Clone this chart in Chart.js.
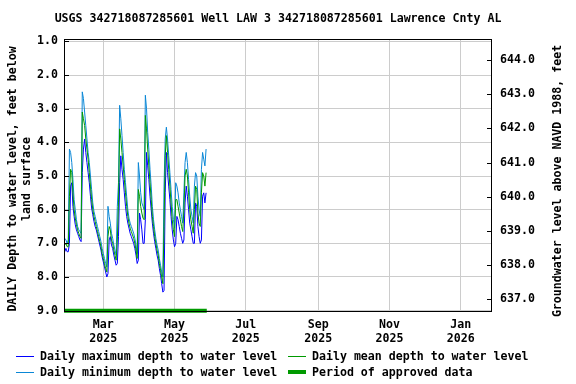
<!DOCTYPE html>
<html><head><meta charset="utf-8">
<script src="https://cdn.jsdelivr.net/npm/chart.js@4.4.1/dist/chart.umd.min.js"></script>
<style>html,body{margin:0;padding:0;background:#fff}#wrap{width:576px;height:384px}</style>
</head><body><div id="wrap"><canvas id="c" width="576" height="384"></canvas></div>
<script>
const titleText = "USGS 342718087285601 Well LAW 3 342718087285601 Lawrence Cnty AL";
const leftTitle = ["DAILY Depth to water level, feet below", "land surface"];
const rightTitle = "Groundwater level above NAVD 1988, feet";
// day-of-year 2025 (Jan 1 = 0) of the first value: Jan 27 2025
const firstDay = 26;
const dailyMin = [
6.85,6.9,7.0,6.9,4.2,4.3,4.6,5.1,5.7,6.0,6.3,6.5,6.6,6.65,6.7,
2.5,2.7,3.1,3.5,3.9,4.3,4.6,5.0,5.4,5.8,6.05,6.2,6.35,6.5,6.65,6.8,6.95,7.15,7.3,7.45,7.6,7.7,
5.9,6.2,6.4,6.7,6.85,7.05,7.2,7.35,
5.9,5.2,2.9,3.3,3.8,4.3,4.8,5.2,5.6,6.0,6.25,6.4,6.5,6.6,6.7,6.85,7.05,7.3,
4.6,5.0,5.5,5.8,5.9,6.0,
2.6,3.0,3.7,4.2,4.8,5.3,5.9,6.3,6.6,6.85,7.05,7.2,7.45,7.65,7.85,8.0,
5.3,3.9,3.55,3.9,4.4,4.9,5.4,5.9,6.3,6.55,
5.2,5.3,5.5,5.8,6.0,6.2,6.4,
5.5,4.6,4.3,4.6,5.1,5.6,6.0,6.2,6.4,
5.3,4.9,5.0,5.6,6.0,6.2,
4.8,4.3,4.5,4.7,4.2];
const dailyMean = [
7.05,7.0,7.1,7.1,5.6,4.8,4.9,5.5,6.0,6.25,6.45,6.6,6.7,6.8,6.85,
3.1,3.3,3.5,3.9,4.2,4.5,4.9,5.3,5.7,6.0,6.2,6.35,6.5,6.65,6.8,6.95,7.1,7.3,7.45,7.6,7.75,7.85,
6.8,6.5,6.6,6.9,7.0,7.2,7.35,7.5,
6.9,5.8,3.6,3.9,4.3,4.7,5.1,5.5,5.9,6.2,6.4,6.55,6.65,6.75,6.85,7.0,7.2,7.45,
5.4,5.6,5.9,6.1,6.25,6.3,
3.2,3.6,4.2,4.7,5.2,5.7,6.2,6.5,6.8,7.0,7.2,7.35,7.6,7.8,8.0,8.2,
6.5,4.4,3.8,4.3,4.8,5.3,5.8,6.3,6.6,6.8,
5.7,5.7,5.9,6.1,6.3,6.5,6.65,
6.0,5.0,4.8,5.0,5.5,6.0,6.3,6.5,6.7,
6.0,5.3,5.4,6.1,6.4,6.5,
5.5,4.9,5.0,5.3,4.9];
const dailyMax = [
7.25,7.15,7.25,7.25,7.0,5.3,5.2,5.9,6.2,6.45,6.6,6.7,6.8,6.9,6.95,
4.9,4.2,3.9,4.3,4.6,4.9,5.2,5.6,5.95,6.15,6.35,6.5,6.6,6.75,6.9,7.05,7.2,7.4,7.55,7.7,7.85,8.0,
7.9,6.9,6.8,7.05,7.15,7.35,7.5,7.65,
7.6,6.8,5.2,4.4,4.8,5.1,5.5,5.9,6.2,6.4,6.55,6.7,6.8,6.9,7.0,7.15,7.35,7.6,
7.5,6.1,6.3,6.6,7.0,7.0,
6.3,4.3,4.7,5.1,5.6,6.0,6.4,6.7,6.95,7.15,7.35,7.5,7.75,7.95,8.2,8.45,
8.4,5.5,4.3,4.9,5.3,5.7,6.2,6.6,6.9,7.1,
7.0,6.2,6.3,6.5,6.7,6.85,7.0,
6.9,5.8,5.3,5.6,6.0,6.4,6.6,6.8,7.0,
7.0,5.8,5.9,6.5,6.8,7.0,
6.9,5.6,5.5,5.8,5.5];
const approvedPeriod = [25.4, 147.6];
const approvedLevel = 9.0;
const xTickDays = [59, 120, 181, 243, 304, 365];
const xTickLabels = [["Mar","2025"],["May","2025"],["Jul","2025"],["Sep","2025"],["Nov","2025"],["Jan","2026"]];
const leftTicks = [1,2,3,4,5,6,7,8,9];
const rightTicks = [637,638,639,640,641,642,643,644];

const FONT = "bold 11.6px 'DejaVu Sans Mono', monospace";
const fontObj = {family: "'DejaVu Sans Mono', monospace", size: 11.6, weight: 'bold'};
const C_MAX = '#0000ff', C_MIN = '#0a87d6', C_MEAN = '#009a00', C_APP = '#009a00';

function pts(arr){ return arr.map((v,i)=>({x:firstDay+i, y:v})); }

const decor = {
  id:'decor',
  afterDraw(chart){
    const ctx = chart.ctx, a = chart.chartArea;
    ctx.save();
    ctx.strokeStyle = '#000'; ctx.lineWidth = 1;
    ctx.strokeRect(Math.round(a.left)+0.5, Math.round(a.top)+0.5, Math.round(a.right-a.left)-1, Math.round(a.bottom-a.top)-1);
    const yl = chart.scales.y, yr = chart.scales.y2;
    ctx.beginPath();
    leftTicks.forEach(v=>{ const p=Math.round(yl.getPixelForValue(v))+0.5; ctx.moveTo(a.left, p); ctx.lineTo(a.left+5, p); });
    rightTicks.forEach(v=>{ const p=Math.round(yr.getPixelForValue(v))+0.5; ctx.moveTo(a.right, p); ctx.lineTo(a.right-5, p); });
    ctx.stroke();
    ctx.fillStyle = '#000'; ctx.font = FONT; ctx.textBaseline = 'middle';
    ctx.textAlign = 'center';
    ctx.fillText(titleText, 278, 19);
    ctx.save(); ctx.translate(13, 179); ctx.rotate(-Math.PI/2);
    ctx.fillText(leftTitle[0], 0, 0); ctx.fillText(leftTitle[1], 0, 14); ctx.restore();
    ctx.save(); ctx.translate(558, 181); ctx.rotate(-Math.PI/2);
    ctx.fillText(rightTitle, 0, 0); ctx.restore();
    const items = [
      {x:16, y:356, c:C_MAX, w:1, t:'Daily maximum depth to water level'},
      {x:288, y:356, c:C_MEAN, w:1, t:'Daily mean depth to water level'},
      {x:16, y:372, c:C_MIN, w:1, t:'Daily minimum depth to water level'},
      {x:288, y:372, c:C_APP, w:4, t:'Period of approved data'}
    ];
    ctx.textAlign = 'left';
    items.forEach(it=>{
      ctx.strokeStyle = it.c; ctx.lineWidth = it.w;
      ctx.beginPath(); const yy = it.w%2 ? it.y+0.5 : it.y; ctx.moveTo(it.x, yy); ctx.lineTo(it.x+18, yy); ctx.stroke();
      ctx.fillStyle = '#000'; ctx.fillText(it.t, it.x+24, it.y+1);
    });
    ctx.restore();
  }
};

new Chart(document.getElementById('c'), {
  type:'line',
  data:{datasets:[
    {label:'approved', data:[{x:approvedPeriod[0],y:approvedLevel},{x:approvedPeriod[1],y:approvedLevel}], borderColor:C_APP, borderWidth:4, pointRadius:0, order:0, borderCapStyle:'butt', clip:false},
    {label:'mean', data:pts(dailyMean), borderColor:C_MEAN, borderWidth:1, pointRadius:0, order:1},
    {label:'min', data:pts(dailyMin), borderColor:C_MIN, borderWidth:1, pointRadius:0, order:2},
    {label:'max', data:pts(dailyMax), borderColor:C_MAX, borderWidth:1, pointRadius:0, order:3}
  ]},
  options:{
    responsive:false, animation:false, devicePixelRatio:1,
    layout:{padding:{top:39, left:0, right:0, bottom:0}},
    plugins:{legend:{display:false}, title:{display:false}, tooltip:{enabled:false}},
    elements:{line:{tension:0}},
    scales:{
      x:{type:'linear', min:25.35, max:391.8,
        afterBuildTicks(s){ s.ticks = xTickDays.map(v=>({value:v})); },
        afterFit(s){ s.height = 72; },
        ticks:{autoSkip:false, maxRotation:0, color:'#000', font:fontObj, padding:6,
          callback(v){ const i = xTickDays.indexOf(v); return i>=0 ? xTickLabels[i] : ''; }},
        grid:{color:'#cccccc', drawTicks:false, lineWidth:1},
        border:{display:false}
      },
      y:{type:'linear', position:'left', reverse:true, min:0.93, max:9.04,
        afterBuildTicks(s){ s.ticks = leftTicks.map(v=>({value:v})); },
        afterFit(s){ s.width = 64; },
        ticks:{color:'#000', font:fontObj, padding:6, callback(v){ return v.toFixed(1); }},
        grid:{color:'#cccccc', drawTicks:false, lineWidth:1},
        border:{display:false}
      },
      y2:{type:'linear', position:'right', min:636.63, max:644.615,
        afterBuildTicks(s){ s.ticks = rightTicks.map(v=>({value:v})); },
        afterFit(s){ s.width = 84; },
        ticks:{color:'#000', font:fontObj, padding:8, callback(v){ return v.toFixed(1); }},
        grid:{drawOnChartArea:false, drawTicks:false},
        border:{display:false}
      }
    }
  },
  plugins:[decor]
});
</script></body></html>
